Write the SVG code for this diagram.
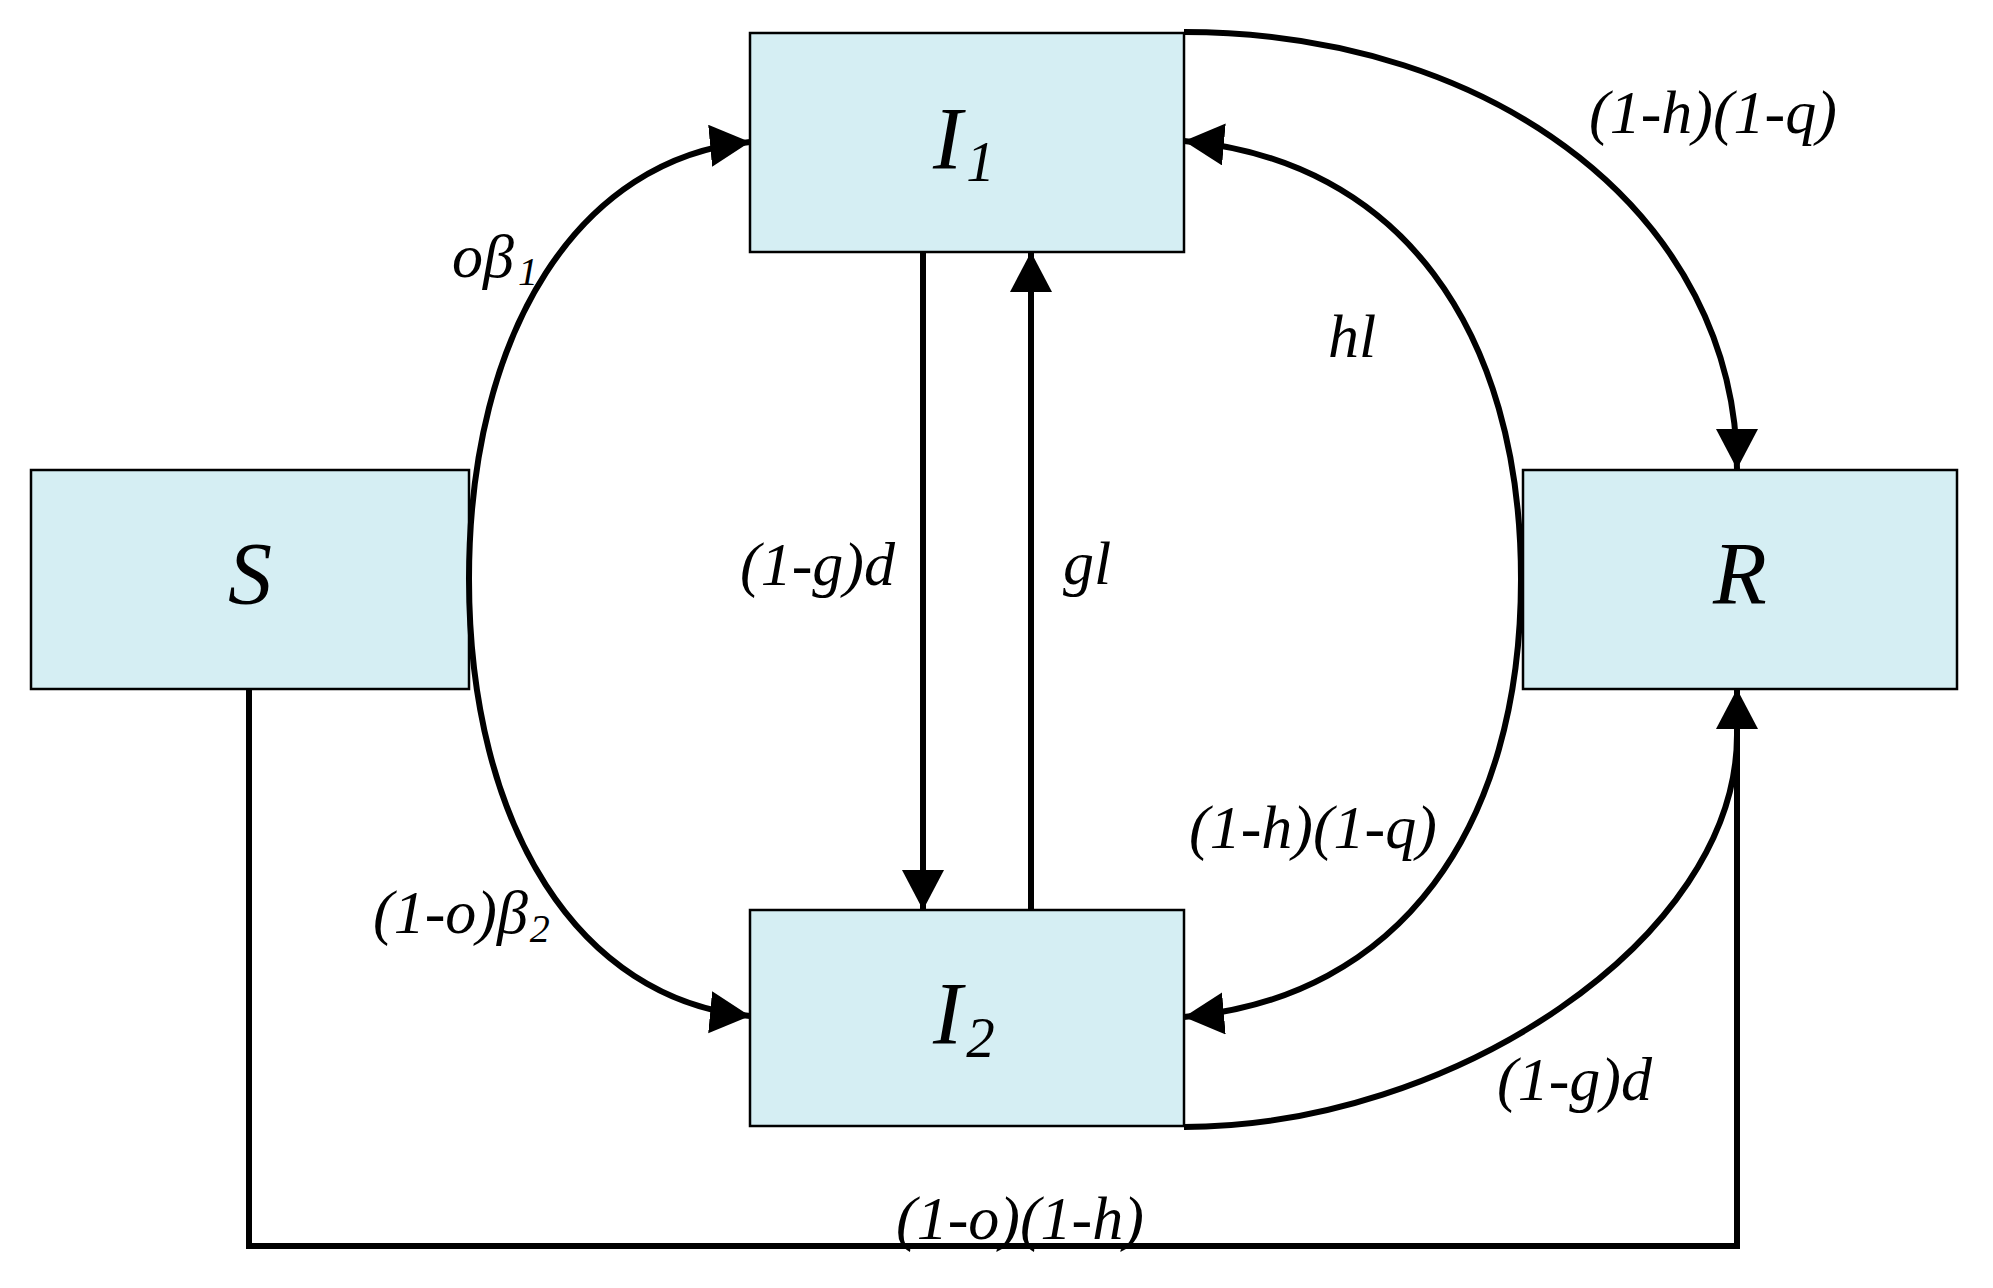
<svg xmlns="http://www.w3.org/2000/svg" width="1993" height="1288" viewBox="0 0 1993 1288">
  <style>
    .box { fill: #D5EEF3; stroke: #000; stroke-width: 2.5; }
    .node { font-family: "Liberation Serif", "Times New Roman", serif; font-style: italic; font-size: 88px; fill: #000; }
    .lbl { font-family: "Liberation Serif", "Times New Roman", serif; font-style: italic; font-size: 62px; fill: #000; }
    .edge { fill: none; stroke: #000; stroke-width: 6; }
  </style>
  <defs>
    <marker id="arrow" markerUnits="userSpaceOnUse" markerWidth="42" markerHeight="44" refX="40" refY="21" orient="auto">
      <path d="M0,0 L40,21 L0,42 Z" fill="#000"/>
    </marker>
  </defs>
  <rect width="1993" height="1288" fill="#fff"/>

  <g id="node-S">
    <rect class="box" x="31" y="470" width="438" height="219"/>
    <text class="node" x="250" y="603" text-anchor="middle">S</text>
  </g>
  <g id="node-I1">
    <rect class="box" x="750" y="33" width="434" height="219"/>
    <text class="node" x="933" y="168">I<tspan font-size="57" dx="4" dy="13">1</tspan></text>
  </g>
  <g id="node-I2">
    <rect class="box" x="750" y="910" width="434" height="216"/>
    <text class="node" x="933" y="1043">I<tspan font-size="57" dx="4" dy="14">2</tspan></text>
  </g>
  <g id="node-R">
    <rect class="box" x="1523" y="470" width="434" height="219"/>
    <text class="node" x="1740" y="603" text-anchor="middle">R</text>
  </g>

  <g id="connectors">
    <path class="edge" d="M469,579 C469,330 580,158 750,142" marker-end="url(#arrow)"/>
    <path class="edge" d="M469,579 C469,828 580,1000 750,1016" marker-end="url(#arrow)"/>
    <path class="edge" d="M923,252 L923,910" marker-end="url(#arrow)"/>
    <path class="edge" d="M1031,910 L1031,252" marker-end="url(#arrow)"/>
    <path class="edge" d="M1184,32 C1500,32 1737,220 1737,469" marker-end="url(#arrow)"/>
    <path class="edge" d="M1521,579 C1521,330 1400,160 1184,141" marker-end="url(#arrow)"/>
    <path class="edge" d="M1521,579 C1521,828 1400,998 1184,1017" marker-end="url(#arrow)"/>
    <path class="edge" d="M1184,1127 C1450,1127 1737,940 1737,735"/>
    <path class="edge" d="M249,689 L249,1246 L1737,1246 L1737,689" marker-end="url(#arrow)"/>
  </g>

  <g id="labels">
    <text class="lbl" x="452" y="277">oβ<tspan font-size="40" dx="4" dy="8">1</tspan></text>
    <text class="lbl" x="373" y="933">(1-o)β<tspan font-size="40" dx="2" dy="9">2</tspan></text>
    <text class="lbl" x="740" y="585">(1-g)d</text>
    <text class="lbl" x="1063" y="584">gl</text>
    <text class="lbl" x="1328" y="357">hl</text>
    <text class="lbl" x="1589" y="133">(1-h)(1-q)</text>
    <text class="lbl" x="1189" y="848">(1-h)(1-q)</text>
    <text class="lbl" x="1497" y="1100">(1-g)d</text>
    <text class="lbl" x="896" y="1239">(1-o)(1-h)</text>
  </g>
</svg>
